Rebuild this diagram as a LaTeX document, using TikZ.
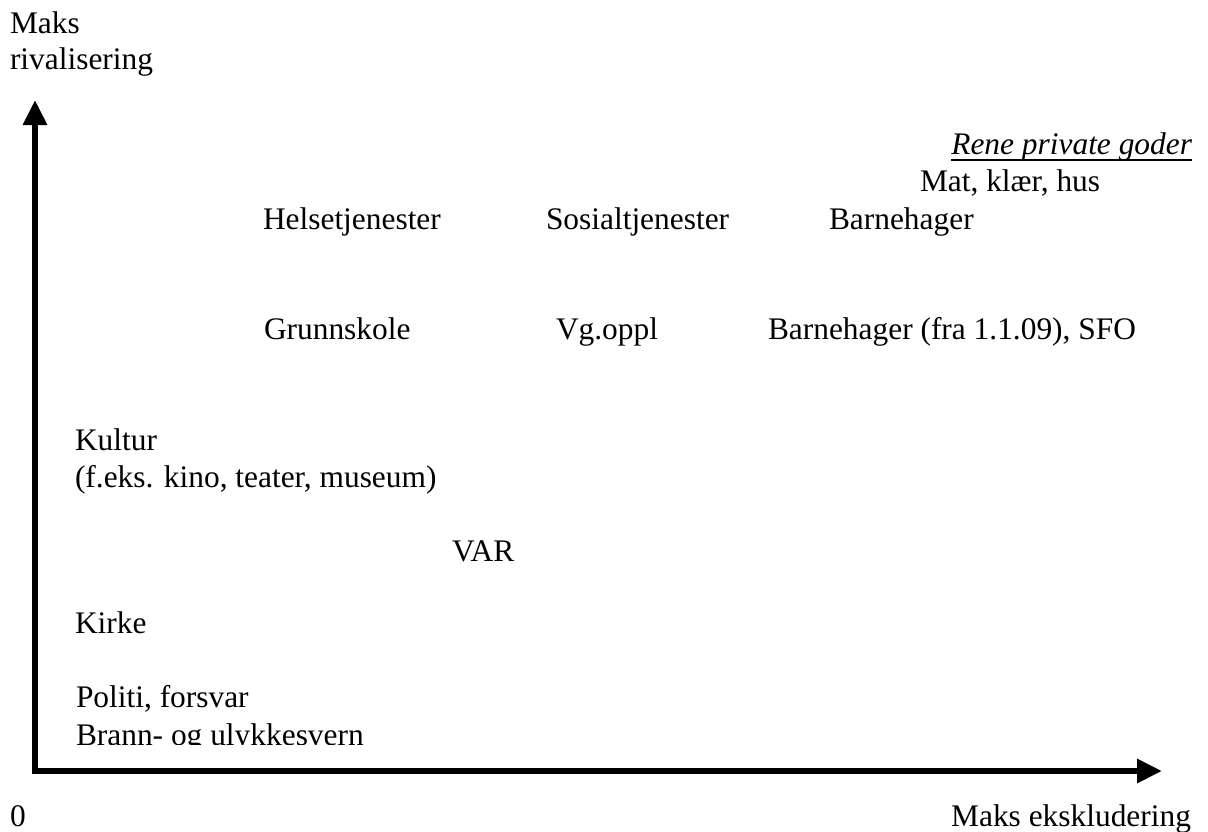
\documentclass[tikz,border=0pt]{standalone}
\usepackage{fontspec}
\setmainfont{Liberation Serif}
\usetikzlibrary{arrows.meta,calc}
\begin{document}
\begin{tikzpicture}[x=1pt,y=-1pt,
  lbl/.style={inner sep=0pt,outer sep=0pt,anchor=base west,font=\fontsize{31.4}{37}\selectfont},
  lblr/.style={lbl,anchor=base east},
  axis/.style={line width=6pt,line join=miter,{Triangle[length=25pt,width=23pt]}-{Triangle[length=25pt,width=23pt]}}]
\useasboundingbox (0,0) rectangle (1208,831);
% axes
\coordinate (ytip) at (35,100);
\coordinate (corner) at (35,771);
\coordinate (xtip) at (1162,771);
\draw[axis] (ytip) -- (corner) -- (xtip);
% axis labels
\node[lbl] (maks) at (10,33) {Maks};
\node[lbl] (rival) at (10,69) {rivalisering};
\node[lbl] (zero) at (10,826) {0};
\node[lblr] (ekskl) at (1191,826) {Maks ekskludering};
% top right
\node[lblr] (rene) at (1192,154) {\itshape Rene private goder};
\draw[line width=2pt] ($(rene.base west)+(0,6)$) -- ($(rene.base east)+(0,6)$);
\node[lbl] (mat) at (920,191) {Mat, klær, hus};
% row 1
\node[lbl] (helse) at (263,229) {Helsetjenester};
\node[lbl] (sosial) at (546,229) {Sosialtjenester};
\node[lbl] (barn1) at (829,229) {Barnehager};
% row 2
\node[lbl] (grunn) at (264,339) {Grunnskole};
\node[lbl] (vg) at (556,339) {Vg.oppl};
\node[lbl] (barn2) at (768,339) {Barnehager (fra 1.1.09), SFO};
% left column
\node[lbl] (kultur) at (75,450) {Kultur};
\node[lbl] (fek) at (75,487) {(f.eks. kino, teater, museum)};
\node[lbl] (var) at (452,561) {VAR};
\node[lbl] (kirke) at (75,633) {Kirke};
\node[lbl] (politi) at (76,707) {Politi, forsvar};
\begin{scope}
\clip (0,0) rectangle (1208,744);
\node[lbl] (brann) at (76,745) {Brann- og ulykkesvern};
\end{scope}
\end{tikzpicture}
\end{document}
